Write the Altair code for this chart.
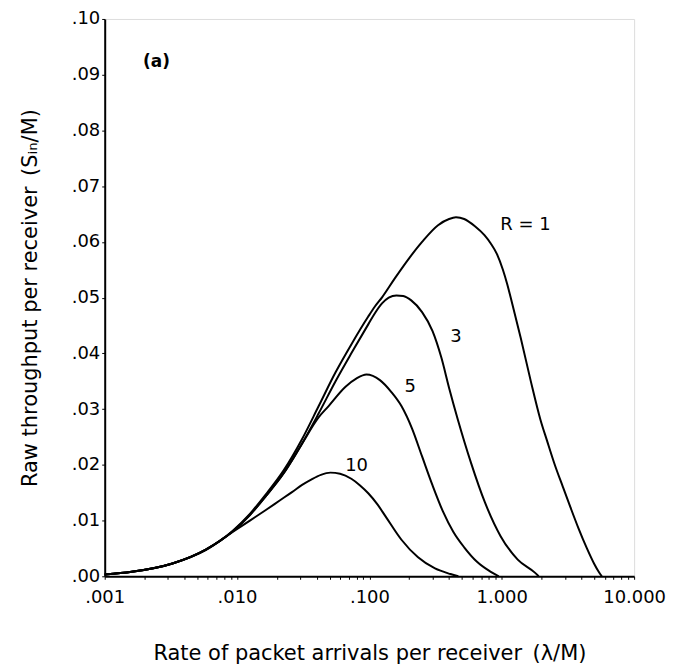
import altair as alt
import pandas as pd

# ---- data ----
lam_r1 = [0.001, 0.0016, 0.00325, 0.0058, 0.0092, 0.0125, 0.0165, 0.0225, 0.0308, 0.0413, 0.0555,
          0.073, 0.098, 0.11, 0.125, 0.156, 0.2, 0.25, 0.33, 0.4, 0.451, 0.52, 0.627, 0.74, 0.826, 0.92,
          1.02, 1.1, 1.2, 1.39, 1.65, 1.96, 2.2, 2.5, 2.9, 3.3, 3.8, 4.4, 5.0, 5.4, 5.7]
s_r1 = [0.0003, 0.0008, 0.0023, 0.0048, 0.0081, 0.0112, 0.0147, 0.0190, 0.0245, 0.0305, 0.0366,
        0.0416, 0.0466, 0.0484, 0.0501, 0.0535, 0.0571, 0.0600, 0.0630, 0.0641, 0.0644, 0.0641, 0.0628, 0.0612, 0.0597, 0.0578,
        0.0550, 0.0524, 0.0489, 0.0428, 0.0352, 0.0281, 0.0243, 0.0202, 0.0160, 0.0124, 0.0086, 0.0050, 0.0022, 0.0008, 0.0]

lam_r3 = [0.001, 0.0016, 0.00325, 0.0058, 0.0092, 0.0125, 0.0165, 0.0225, 0.0308, 0.0413, 0.0555,
          0.073, 0.098, 0.11, 0.125, 0.14, 0.16, 0.18, 0.207, 0.25, 0.3, 0.35, 0.4, 0.466, 0.585, 0.745,
          0.98, 1.32, 1.77, 1.9]
s_r3 = [0.0003, 0.0008, 0.0023, 0.0048, 0.0080, 0.0110, 0.0144, 0.0185, 0.0237, 0.0292, 0.0350,
        0.0400, 0.0452, 0.0472, 0.0490, 0.0500, 0.0504, 0.0503, 0.0495, 0.0474, 0.0440, 0.0392, 0.0338, 0.0281, 0.0204, 0.0133,
        0.0072, 0.0030, 0.0007, 0.0]

lam_r5 = [0.001, 0.0016, 0.00325, 0.0058, 0.0092, 0.0125, 0.0165, 0.0225, 0.0308, 0.0413, 0.049,
          0.066, 0.08, 0.095, 0.12, 0.146, 0.175, 0.21, 0.25, 0.3, 0.36, 0.43, 0.52, 0.65, 0.8, 0.95]
s_r5 = [0.0003, 0.0008, 0.0023, 0.0048, 0.0080, 0.0110, 0.0144, 0.0185, 0.0237, 0.0285, 0.0305,
        0.0340, 0.0355, 0.0362, 0.0352, 0.0331, 0.0305, 0.0265, 0.0215, 0.0163, 0.0116, 0.0080, 0.0052, 0.0026, 0.0010, 0.0]

lam_r10 = [0.001, 0.0016, 0.00325, 0.0058, 0.0092, 0.0125, 0.0165, 0.021, 0.026, 0.031, 0.0366, 0.043,
           0.0507, 0.06, 0.073, 0.085, 0.098, 0.115, 0.132, 0.174, 0.233, 0.313, 0.41, 0.47]
s_r10 = [0.0003, 0.0008, 0.0023, 0.0047, 0.0079, 0.0100, 0.0119, 0.0136, 0.0151, 0.0164, 0.0174, 0.0182,
         0.0186, 0.0184, 0.0175, 0.0163, 0.0149, 0.0129, 0.0108, 0.0066, 0.0034, 0.0014, 0.0004, 0.0]

label_text = ["R = 1", "3", "5", "10"]
label_lam = [1.51, 0.45, 0.203, 0.08]
label_s = [0.0631, 0.043, 0.0339, 0.0197]

panel_text = ["(a)"]
panel_lam = [0.00246]
panel_s = [0.0923]

y_ticks = [0.0, 0.01, 0.02, 0.03, 0.04, 0.05, 0.06, 0.07, 0.08, 0.09, 0.10]

# ---- build tables ----
rows = []
for name, lams, ss in [("1", lam_r1, s_r1), ("3", lam_r3, s_r3),
                       ("5", lam_r5, s_r5), ("10", lam_r10, s_r10)]:
    for i, (l, s) in enumerate(zip(lams, ss)):
        rows.append({"R": name, "lam": l, "S": s, "i": i})
df = pd.DataFrame(rows)
labels = pd.DataFrame({"text": label_text, "lam": label_lam, "S": label_s})
panel = pd.DataFrame({"text": panel_text, "lam": panel_lam, "S": panel_s})

minor = []
for d in [0.001, 0.01, 0.1, 1]:
    for k in range(1, 10):
        minor.append(round(d * k, 6))
minor.append(10)

FONT = "DejaVu Sans"

xscale = alt.Scale(type="log", domain=[0.001, 10])
yscale = alt.Scale(domain=[0, 0.1])

x_label_expr = ("abs(datum.value-0.001)<1e-9 ? '.001' : abs(datum.value-0.01)<1e-9 ? '.010' : "
                "abs(datum.value-0.1)<1e-9 ? '.100' : abs(datum.value-1)<1e-9 ? '1.000' : "
                "abs(datum.value-10)<1e-9 ? '10.000' : ''")

xaxis = alt.Axis(
    values=minor,
    labelExpr=x_label_expr,
    title="Rate of packet arrivals per receiver\u2002(λ/M)",
    titleFontSize=21, titleFont=FONT, titleFontWeight="normal", titleColor="black",
    titlePadding=36,
    labelFontSize=18, labelFont=FONT, labelColor="black", labelPadding=9,
    tickColor="black", tickSize=3, domainColor="black", domainWidth=2,
    grid=False, labelOverlap=False, labelFlush=False,
)
yaxis = alt.Axis(
    values=y_ticks,
    labelExpr="replace(format(datum.value,'.2f'),'0.','.')",
    title="Raw throughput per receiver\u2002(Sᵢₙ/M)",
    titleFontSize=21, titleFont=FONT, titleFontWeight="normal", titleColor="black",
    titlePadding=31,
    labelFontSize=18, labelFont=FONT, labelColor="black", labelPadding=2,
    tickColor="black", tickSize=3, domainColor="black", domainWidth=2,
    grid=False, labelOverlap=False,
)

lines = alt.Chart(df).mark_line(color="black", strokeWidth=2, interpolate="monotone").encode(
    x=alt.X("lam:Q", scale=xscale, axis=xaxis),
    y=alt.Y("S:Q", scale=yscale, axis=yaxis),
    detail="R:N",
    order="i:Q",
)

texts = alt.Chart(labels).mark_text(font=FONT, fontSize=18, color="black").encode(
    x=alt.X("lam:Q", scale=xscale),
    y=alt.Y("S:Q", scale=yscale),
    text="text:N",
)

panel_label = alt.Chart(panel).mark_text(font=FONT, fontSize=17, fontWeight="bold", color="black").encode(
    x=alt.X("lam:Q", scale=xscale),
    y=alt.Y("S:Q", scale=yscale),
    text="text:N",
)

chart = alt.layer(lines, texts, panel_label).properties(
    width=531, height=559,
    autosize=alt.AutoSizeParams(type="none"),
    padding={"left": 97, "top": 10, "right": 38, "bottom": 92},
).configure_view(stroke="black", strokeWidth=2).configure(background="white")

chart.save("out.html", embed_options={"renderer": "svg", "actions": False})
